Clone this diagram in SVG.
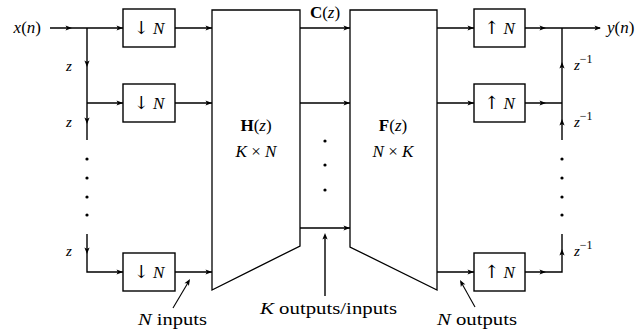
<svg xmlns="http://www.w3.org/2000/svg" xmlns:xlink="http://www.w3.org/1999/xlink" width="642" height="333" viewBox="0 0 642 333" font-family="'Liberation Serif', 'DejaVu Serif', serif">
<style>
.ln{fill:none;stroke:#000;stroke-width:1.4}
.thin{fill:none;stroke:#000;stroke-width:1.1}
.box{fill:#fff;stroke:#000;stroke-width:1.4}
.blk{fill:#fff;stroke:#000;stroke-width:1.3;stroke-linejoin:miter}
.t{font-size:17px;font-family:'Liberation Serif','DejaVu Serif',serif}
.s{font-size:15px;font-family:'Liberation Serif','DejaVu Serif',serif}
.it{font-style:italic}
.bf{font-weight:bold}
.ar{font-size:18px;font-family:'DejaVu Serif',serif}
.dot{fill:#000}
</style>
<defs>
<path id="ah" d="M0,0 L-6.5,-2.6 L-5,0 L-6.5,2.6 Z" fill="#000"/>
</defs>
<rect width="642" height="333" fill="#fff"/>
<g id="connectors">
<path class="ln" d="M50,28 H123"/>
<path class="ln" d="M87,28 V140"/>
<path class="ln" d="M87,103 H123"/>
<path class="ln" d="M87,234 V272 H123"/>
<path class="ln" d="M175,28 H212 M175,103 H212 M175,272 H212"/>
<path class="ln" d="M300,28 H350 M300,103 H350 M300,228 H350"/>
<path class="ln" d="M437,28 H474 M437,103 H474 M437,272 H474"/>
<path class="ln" d="M525,28 H600"/>
<path class="ln" d="M562,28 V140"/>
<path class="ln" d="M525,103 H562"/>
<path class="ln" d="M525,272 H562 V234"/>
<path class="thin" d="M173,308 L189,281"/>
<path class="ln" d="M325,296 V236"/>
<path class="thin" d="M475,307 L461,282"/>
<use xlink:href="#ah" transform="translate(72,28)"/>
<use xlink:href="#ah" transform="translate(123,28)"/>
<use xlink:href="#ah" transform="translate(123,103)"/>
<use xlink:href="#ah" transform="translate(123,272)"/>
<use xlink:href="#ah" transform="translate(87,67) rotate(90)"/>
<use xlink:href="#ah" transform="translate(87,124) rotate(90)"/>
<use xlink:href="#ah" transform="translate(87,254) rotate(90)"/>
<use xlink:href="#ah" transform="translate(212,28)"/>
<use xlink:href="#ah" transform="translate(212,103)"/>
<use xlink:href="#ah" transform="translate(212,272)"/>
<use xlink:href="#ah" transform="translate(350,28)"/>
<use xlink:href="#ah" transform="translate(350,103)"/>
<use xlink:href="#ah" transform="translate(350,228)"/>
<use xlink:href="#ah" transform="translate(474,28)"/>
<use xlink:href="#ah" transform="translate(474,103)"/>
<use xlink:href="#ah" transform="translate(474,272)"/>
<use xlink:href="#ah" transform="translate(546,28)"/>
<use xlink:href="#ah" transform="translate(546,103)"/>
<use xlink:href="#ah" transform="translate(546,272)"/>
<use xlink:href="#ah" transform="translate(601,28)"/>
<use xlink:href="#ah" transform="translate(562,62) rotate(-90)"/>
<use xlink:href="#ah" transform="translate(562,119) rotate(-90)"/>
<use xlink:href="#ah" transform="translate(562,249) rotate(-90)"/>
<use xlink:href="#ah" transform="translate(190,279) rotate(-59)"/>
<use xlink:href="#ah" transform="translate(325,233) rotate(-90)"/>
<use xlink:href="#ah" transform="translate(460,280) rotate(-119)"/>
</g>
<g id="dots">
<circle class="dot" cx="87" cy="159" r="1.6"/>
<circle class="dot" cx="87" cy="178" r="1.6"/>
<circle class="dot" cx="87" cy="197" r="1.6"/>
<circle class="dot" cx="87" cy="215" r="1.6"/>
<circle class="dot" cx="325" cy="141" r="1.6"/>
<circle class="dot" cx="325" cy="165" r="1.6"/>
<circle class="dot" cx="325" cy="190" r="1.6"/>
<circle class="dot" cx="562" cy="159" r="1.6"/>
<circle class="dot" cx="562" cy="178" r="1.6"/>
<circle class="dot" cx="562" cy="197" r="1.6"/>
<circle class="dot" cx="562" cy="215" r="1.6"/>
</g>
<g id="down1"><rect class="box" x="123" y="9" width="52" height="38"/><text class="t" x="149" y="34" text-anchor="middle"><tspan class="ar">↓</tspan> <tspan class="it">N</tspan></text></g>
<g id="down2"><rect class="box" x="123" y="84" width="52" height="38"/><text class="t" x="149" y="109" text-anchor="middle"><tspan class="ar">↓</tspan> <tspan class="it">N</tspan></text></g>
<g id="down3"><rect class="box" x="123" y="253" width="52" height="38"/><text class="t" x="149" y="278" text-anchor="middle"><tspan class="ar">↓</tspan> <tspan class="it">N</tspan></text></g>
<g id="H"><polygon class="blk" points="212,10 300,10 300,246 212,290"/>
<text class="t" x="256" y="131" text-anchor="middle"><tspan class="bf">H</tspan>(<tspan class="it">z</tspan>)</text>
<text class="t" x="256" y="157" text-anchor="middle"><tspan class="it">K</tspan> × <tspan class="it">N</tspan></text></g>
<g id="F"><polygon class="blk" points="350,10 437,10 437,290 350,247"/>
<text class="t" x="393" y="131" text-anchor="middle"><tspan class="bf">F</tspan>(<tspan class="it">z</tspan>)</text>
<text class="t" x="393" y="157" text-anchor="middle"><tspan class="it">N</tspan> × <tspan class="it">K</tspan></text></g>
<g id="up1"><rect class="box" x="474" y="9" width="51" height="38"/><text class="t" x="499.5" y="34" text-anchor="middle"><tspan class="ar">↑</tspan> <tspan class="it">N</tspan></text></g>
<g id="up2"><rect class="box" x="474" y="84" width="51" height="38"/><text class="t" x="499.5" y="109" text-anchor="middle"><tspan class="ar">↑</tspan> <tspan class="it">N</tspan></text></g>
<g id="up3"><rect class="box" x="474" y="253" width="51" height="38"/><text class="t" x="499.5" y="278" text-anchor="middle"><tspan class="ar">↑</tspan> <tspan class="it">N</tspan></text></g>
<g id="labels">
<text class="t" x="41" y="33" text-anchor="end"><tspan class="it">x</tspan>(<tspan class="it">n</tspan>)</text>
<text class="t" x="607" y="33"><tspan class="it">y</tspan>(<tspan class="it">n</tspan>)</text>
<text class="t" x="325" y="18" text-anchor="middle"><tspan class="bf">C</tspan>(<tspan class="it">z</tspan>)</text>
<text class="s it" x="66" y="71">z</text>
<text class="s it" x="66" y="127">z</text>
<text class="s it" x="66" y="256">z</text>
<text class="s" x="574" y="70"><tspan class="it">z</tspan><tspan font-size="12" dy="-7">−1</tspan></text>
<text class="s" x="574" y="127"><tspan class="it">z</tspan><tspan font-size="12" dy="-7">−1</tspan></text>
<text class="s" x="574" y="256"><tspan class="it">z</tspan><tspan font-size="12" dy="-7">−1</tspan></text>
<text class="t" x="138" y="325" textLength="69" lengthAdjust="spacingAndGlyphs"><tspan class="it">N</tspan> inputs</text>
<text class="t" x="260" y="314" textLength="137" lengthAdjust="spacingAndGlyphs"><tspan class="it">K</tspan> outputs/inputs</text>
<text class="t" x="437" y="325" textLength="80" lengthAdjust="spacingAndGlyphs"><tspan class="it">N</tspan> outputs</text>
</g>
</svg>
